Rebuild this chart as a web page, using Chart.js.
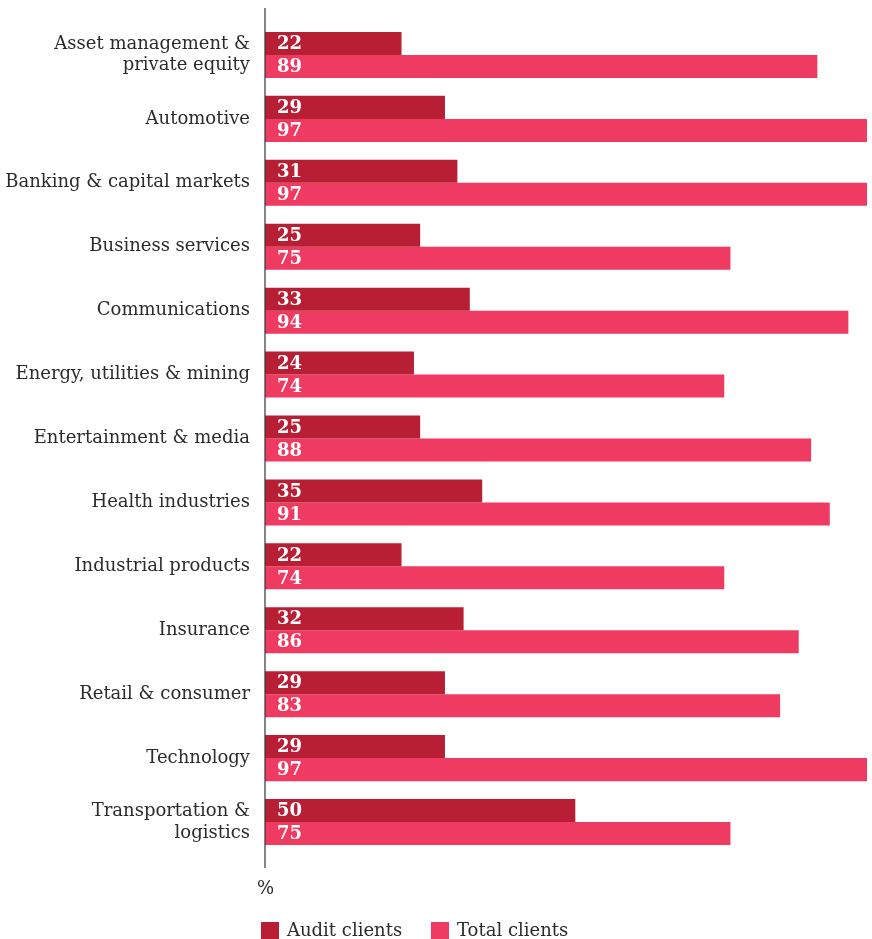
<!DOCTYPE html>
<html>
<head>
<meta charset="utf-8">
<script src="https://cdn.jsdelivr.net/npm/chart.js@4.4.1/dist/chart.umd.min.js"></script>
<style>
  html, body { margin: 0; padding: 0; background: #fff; }
  #wrap { width: 872px; height: 939px; }
</style>
</head>
<body>
<div id="wrap"><canvas id="chart"></canvas></div>
<script>
const sectors = [
    ['Asset management &', 'private equity'],
    'Automotive',
    'Banking & capital markets',
    'Business services',
    'Communications',
    'Energy, utilities & mining',
    'Entertainment & media',
    'Health industries',
    'Industrial products',
    'Insurance',
    'Retail & consumer',
    'Technology',
    ['Transportation &', 'logistics']
];
const auditClients = [22, 29, 31, 25, 33, 24, 25, 35, 22, 32, 29, 29, 50];
const totalClients = [89, 97, 97, 75, 94, 74, 88, 91, 74, 86, 83, 97, 75];
const seriesNames = ['Audit clients', 'Total clients'];
const unitLabel = '%';

const FONT = '"DejaVu Serif", serif';
const DARK = '#b81f34';
const PINK = '#ef3b62';
const TEXT = '#2b2b2b';

// white numbers at the base of each bar
const barValues = {
    id: 'barValues',
    afterDatasetsDraw(chart) {
        const ctx = chart.ctx;
        ctx.save();
        ctx.fillStyle = '#fff';
        ctx.font = 'bold 18px ' + FONT;
        ctx.textBaseline = 'middle';
        chart.data.datasets.forEach((ds, i) => {
            chart.getDatasetMeta(i).data.forEach((bar, j) => {
                ctx.fillText(ds.data[j], bar.base + 12, bar.y + 1);
            });
        });
        ctx.restore();
    }
};

// vertical axis line, the unit label and the legend underneath
const extras = {
    id: 'extras',
    afterDraw(chart) {
        const ctx = chart.ctx;
        const a = chart.chartArea;
        ctx.save();
        ctx.strokeStyle = '#333';
        ctx.lineWidth = 1.2;
        ctx.beginPath();
        ctx.moveTo(a.left, 8);
        ctx.lineTo(a.left, 868);
        ctx.stroke();

        ctx.fillStyle = TEXT;
        ctx.font = '18px ' + FONT;
        ctx.textBaseline = 'middle';
        ctx.fillText(unitLabel, a.left - 8, 889);

        let x = a.left - 4;
        chart.data.datasets.forEach(ds => {
            ctx.fillStyle = ds.backgroundColor;
            ctx.fillRect(x, 922, 18, 18);
            ctx.fillStyle = TEXT;
            ctx.fillText(ds.label, x + 26, 931);
            x += 170;
        });
        ctx.restore();
    }
};

new Chart(document.getElementById('chart'), {
    type: 'bar',
    data: {
        labels: sectors,
        datasets: [{
            label: seriesNames[0],
            data: auditClients,
            backgroundColor: DARK
        }, {
            label: seriesNames[1],
            data: totalClients,
            backgroundColor: PINK
        }]
    },
    options: {
        indexAxis: 'y',
        responsive: true,
        maintainAspectRatio: false,
        animation: false,
        layout: { padding: { top: 23, bottom: 85, right: 5, left: 0 } },
        datasets: {
            bar: { barPercentage: 1, categoryPercentage: 0.72 }
        },
        plugins: {
            legend: { display: false },
            tooltip: { enabled: false }
        },
        scales: {
            x: {
                display: false,
                min: 0,
                max: 97
            },
            y: {
                border: { display: false },
                grid: { display: false, drawTicks: false },
                ticks: {
                    color: TEXT,
                    padding: 15,
                    font: { family: FONT, size: 18, lineHeight: 1.2 }
                },
                afterFit(scale) {
                    scale.width = 265;
                    scale.paddingTop = 0;
                    scale.paddingBottom = 0;
                }
            }
        }
    },
    plugins: [barValues, extras]
});
</script>
</body>
</html>
